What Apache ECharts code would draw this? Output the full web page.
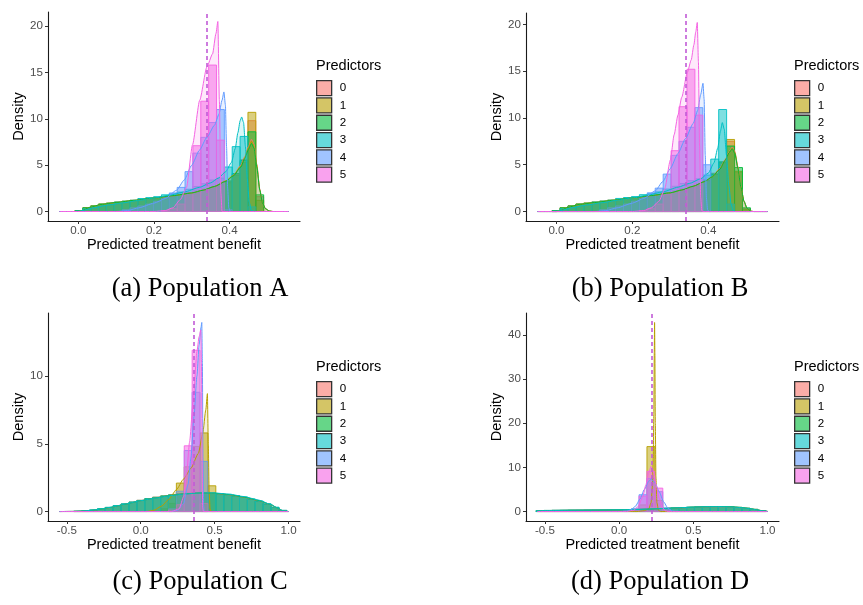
<!DOCTYPE html>
<html><head><meta charset="utf-8">
<script src="https://cdn.jsdelivr.net/npm/echarts@6/dist/echarts.min.js"></script>
<style>html,body{margin:0;padding:0;background:#fff}#c{width:863px;height:605px}</style>
</head><body><div id="c"></div>
<script>
// ---------- data ----------
const predictors = ['0','1','2','3','4','5'];
const palette = ['#F8766D','#B79F00','#00BA38','#00BFC4','#619CFF','#F564E3'];
const captions = ['(a) Population A','(b) Population B','(c) Population C','(d) Population D'];
const xTicksAB = [0, 0.2, 0.4];
const xTicksCD = [-0.5, 0, 0.5, 1.0];
const yTicksA = [0, 5, 10, 15, 20];
const yTicksB = [0, 5, 10, 15, 20];
const yTicksC = [0, 5, 10];
const yTicksD = [0, 10, 20, 30, 40];
const xRangeAB = [-0.05, 0.556];
const xRangeCD = [-0.55, 1.0];
const yMaxA = 20.5, yMaxB = 20.2, yMaxC = 13.95, yMaxD = 42.8;
const vlineA = 0.337, vlineB = 0.339, vlineC = 0.361, vlineD = 0.218;
const binStartA = -0.009, binWidthA = 0.0208;
const binStartB = -0.0115, binWidthB = 0.0209;
const binStartC = -0.56, binWidthC = 0.0534;
const binStartD = -0.56, binWidthD = 0.0534;

const histA = [
  [0.1,0.4,0.6,0.8,0.9,1.0,1.1,1.2,1.3,1.4,1.5,1.6,1.7,1.8,2.0,2.2,2.4,2.6,2.8,3.2,4.0,5.6,9.8,1.6,0,0],
  [0.1,0.4,0.6,0.8,0.9,1.0,1.1,1.2,1.3,1.4,1.5,1.6,1.7,1.8,1.9,2.1,2.3,2.6,2.8,3.1,3.9,5.3,10.7,1.2,0,0],
  [0.1,0.4,0.6,0.8,0.9,1.0,1.1,1.2,1.3,1.4,1.5,1.6,1.7,1.8,2.0,2.2,2.4,2.6,2.9,3.3,4.1,5.5,8.6,1.8,0,0],
  [0.05,0.3,0.5,0.7,0.8,1.0,1.1,1.2,1.4,1.5,1.6,1.8,1.9,2.1,2.4,2.7,3.0,3.4,3.6,4.8,7.0,8.1,0.5,0,0,0],
  [0,0,0,0,0,0,0.2,0.4,0.6,0.8,1.1,1.5,2.0,2.6,4.3,6.3,8.0,9.6,11.0,0.2,0,0,0,0,0,0],
  [0,0,0,0,0,0,0,0,0,0,0,0.1,0.3,0.8,2.0,7.1,11.9,15.8,7.7,0,0,0,0,0,0,0]
];
const histB = [
  [0.1,0.4,0.6,0.8,0.9,1.0,1.1,1.2,1.3,1.4,1.5,1.6,1.7,1.8,2.0,2.2,2.4,2.7,3.0,3.4,4.1,5.3,7.5,4.2,0.3,0],
  [0.1,0.4,0.6,0.8,0.9,1.0,1.1,1.2,1.3,1.4,1.5,1.6,1.7,1.8,1.9,2.1,2.3,2.6,2.9,3.3,4.0,5.2,7.7,4.3,0.2,0],
  [0.1,0.4,0.6,0.8,0.9,1.0,1.1,1.2,1.3,1.4,1.5,1.6,1.7,1.8,2.0,2.2,2.4,2.6,2.9,3.3,4.0,5.3,7.0,4.7,0.4,0],
  [0.05,0.3,0.5,0.7,0.8,1.0,1.1,1.2,1.4,1.5,1.6,1.8,1.9,2.1,2.4,2.7,3.0,3.3,3.5,3.9,5.6,10.9,0.8,0,0,0],
  [0,0,0,0,0,0,0.2,0.4,0.6,0.8,1.1,1.5,2.0,2.5,4.0,6.0,7.5,9.0,11.1,5.0,0,0,0,0,0,0],
  [0,0,0,0,0,0,0,0,0,0,0,0.1,0.3,0.8,1.8,6.5,11.2,15.2,10.3,0,0,0,0,0,0,0]
];
const histC = [
  [0,0,0.02,0.05,0.1,0.19,0.3,0.42,0.56,0.7,0.83,0.95,1.06,1.15,1.23,1.3,1.35,1.37,1.37,1.34,1.29,1.23,1.14,1.03,0.89,0.73,0.53,0.3,0.08,0],
  [0,0,0,0,0,0,0,0,0,0,0,0,0,0.2,0.6,2.1,3.3,4.8,5.8,1.9,0,0,0,0,0,0,0,0,0,0],
  [0,0,0.02,0.05,0.1,0.2,0.3,0.43,0.55,0.69,0.82,0.95,1.05,1.15,1.23,1.3,1.34,1.37,1.37,1.35,1.3,1.24,1.15,1.05,0.9,0.75,0.55,0.3,0.08,0],
  [0,0,0.02,0.06,0.12,0.21,0.31,0.44,0.57,0.7,0.82,0.94,1.04,1.13,1.21,1.28,1.33,1.36,1.38,1.37,1.33,1.27,1.18,1.07,0.93,0.77,0.57,0.32,0.09,0],
  [0,0,0,0,0,0,0,0,0,0,0,0,0,0,0.2,1.5,4.5,8.8,3.7,0,0,0,0,0,0,0,0,0,0,0],
  [0,0,0,0,0,0,0,0,0,0,0,0,0,0,0.1,0.5,4.85,11.9,0.6,0,0,0,0,0,0,0,0,0,0,0]
];
const histD = [
  [0.18,0.24,0.27,0.28,0.3,0.31,0.32,0.33,0.35,0.37,0.4,0.45,0.5,0.55,0.6,0.66,0.72,0.8,0.88,0.96,1.02,1.08,1.1,1.1,1.04,0.94,0.75,0.5,0.2,0],
  [0,0,0,0,0,0,0,0,0,0,0,0,0,1.5,14.7,2.5,0,0,0,0,0,0,0,0,0,0,0,0,0,0],
  [0.2,0.25,0.27,0.28,0.3,0.3,0.32,0.33,0.35,0.37,0.4,0.45,0.5,0.55,0.6,0.65,0.7,0.8,0.88,0.95,1.02,1.08,1.12,1.12,1.05,0.95,0.75,0.5,0.2,0],
  [0.19,0.25,0.28,0.29,0.31,0.32,0.33,0.34,0.36,0.38,0.41,0.46,0.51,0.56,0.61,0.67,0.73,0.81,0.89,0.97,1.03,1.09,1.11,1.1,1.03,0.92,0.73,0.48,0.19,0],
  [0,0,0,0,0,0,0,0,0,0,0,0.2,0.6,3.8,7.5,4.5,0.8,0.1,0,0,0,0,0,0,0,0,0,0,0,0],
  [0,0,0,0,0,0,0,0,0,0,0,0,0.3,3.5,9.1,5.3,0.3,0,0,0,0,0,0,0,0,0,0,0,0,0]
];

const densA = [
  [[-0.05,0],[0.0,0],[0.01,0.1],[0.03,0.45],[0.06,0.75],[0.1,0.97],[0.15,1.2],[0.2,1.45],[0.25,1.7],[0.3,2.0],[0.33,2.3],[0.36,2.7],[0.39,3.3],[0.41,3.9],[0.43,5.0],[0.44,5.9],[0.45,7.0],[0.458,7.8],[0.465,7.2],[0.472,5.1],[0.48,2.4],[0.487,0.9],[0.495,0.3],[0.505,0.05],[0.515,0],[0.556,0]],
  [[-0.05,0],[0.0,0],[0.01,0.1],[0.03,0.44],[0.06,0.74],[0.1,0.96],[0.15,1.2],[0.2,1.44],[0.25,1.7],[0.3,2.0],[0.33,2.3],[0.36,2.7],[0.39,3.3],[0.41,3.9],[0.43,4.9],[0.44,5.8],[0.45,6.9],[0.458,7.6],[0.465,7.0],[0.472,5.0],[0.48,2.3],[0.487,0.9],[0.495,0.3],[0.505,0.05],[0.515,0],[0.556,0]],
  [[-0.05,0],[0.0,0],[0.01,0.1],[0.03,0.45],[0.06,0.76],[0.1,0.98],[0.15,1.21],[0.2,1.46],[0.25,1.71],[0.3,2.0],[0.33,2.3],[0.36,2.7],[0.39,3.25],[0.41,3.85],[0.43,4.8],[0.44,5.7],[0.45,6.7],[0.458,7.35],[0.465,6.8],[0.472,4.8],[0.48,2.3],[0.487,0.9],[0.495,0.3],[0.505,0.05],[0.515,0],[0.556,0]],
  [[-0.05,0],[0.0,0],[0.01,0.1],[0.04,0.4],[0.08,0.7],[0.12,0.95],[0.16,1.2],[0.2,1.45],[0.24,1.75],[0.28,2.1],[0.32,2.6],[0.35,3.1],[0.37,3.6],[0.39,4.3],[0.405,5.3],[0.415,6.8],[0.422,8.5],[0.428,9.8],[0.432,10.2],[0.437,9.6],[0.442,7.0],[0.447,3.5],[0.452,1.0],[0.458,0.1],[0.465,0],[0.556,0]],
  [[-0.05,0],[0.1,0],[0.13,0.1],[0.16,0.4],[0.2,0.9],[0.23,1.4],[0.26,2.3],[0.28,3.4],[0.3,5.0],[0.32,6.6],[0.34,8.0],[0.36,9.3],[0.372,10.5],[0.38,12.0],[0.385,12.9],[0.389,11.5],[0.392,7.0],[0.395,2.5],[0.398,0.4],[0.402,0],[0.556,0]],
  [[-0.05,0],[0.2,0],[0.23,0.1],[0.25,0.4],[0.27,1.3],[0.286,2.6],[0.302,7.2],[0.321,12.0],[0.34,15.6],[0.355,17.0],[0.364,19.2],[0.369,20.5],[0.373,12.0],[0.377,2.0],[0.38,0],[0.556,0]]
];
const densB = [
  [[-0.05,0],[0.0,0],[0.01,0.1],[0.03,0.45],[0.06,0.75],[0.1,0.95],[0.15,1.2],[0.2,1.45],[0.25,1.7],[0.3,2.0],[0.33,2.3],[0.36,2.7],[0.39,3.2],[0.41,3.7],[0.43,4.6],[0.445,5.6],[0.455,6.4],[0.463,6.9],[0.47,6.4],[0.478,4.8],[0.486,2.7],[0.494,1.1],[0.502,0.35],[0.51,0.05],[0.52,0],[0.556,0]],
  [[-0.05,0],[0.0,0],[0.01,0.1],[0.03,0.44],[0.06,0.74],[0.1,0.95],[0.15,1.2],[0.2,1.44],[0.25,1.7],[0.3,2.0],[0.33,2.3],[0.36,2.7],[0.39,3.2],[0.41,3.7],[0.43,4.5],[0.445,5.5],[0.455,6.3],[0.463,6.8],[0.47,6.3],[0.478,4.7],[0.486,2.6],[0.494,1.1],[0.502,0.35],[0.51,0.05],[0.52,0],[0.556,0]],
  [[-0.05,0],[0.0,0],[0.01,0.1],[0.03,0.45],[0.06,0.76],[0.1,0.96],[0.15,1.21],[0.2,1.46],[0.25,1.71],[0.3,2.0],[0.33,2.3],[0.36,2.7],[0.39,3.2],[0.41,3.7],[0.43,4.5],[0.445,5.5],[0.455,6.3],[0.463,6.7],[0.47,6.2],[0.478,4.6],[0.486,2.6],[0.494,1.1],[0.502,0.35],[0.51,0.05],[0.52,0],[0.556,0]],
  [[-0.05,0],[0.0,0],[0.01,0.1],[0.04,0.4],[0.08,0.7],[0.12,0.95],[0.16,1.2],[0.2,1.45],[0.24,1.75],[0.28,2.1],[0.32,2.6],[0.35,3.0],[0.38,3.5],[0.4,4.1],[0.415,5.2],[0.425,6.8],[0.432,8.6],[0.437,9.5],[0.442,8.8],[0.448,6.0],[0.454,2.8],[0.46,0.8],[0.466,0.1],[0.472,0],[0.556,0]],
  [[-0.05,0],[0.1,0],[0.13,0.1],[0.16,0.4],[0.2,0.9],[0.23,1.4],[0.26,2.2],[0.28,3.2],[0.3,4.6],[0.32,6.2],[0.34,7.8],[0.36,9.4],[0.372,10.8],[0.38,12.5],[0.386,13.7],[0.389,12.0],[0.392,6.0],[0.395,1.5],[0.398,0.2],[0.402,0],[0.556,0]],
  [[-0.05,0],[0.2,0],[0.23,0.1],[0.25,0.4],[0.27,1.1],[0.285,2.4],[0.3,5.5],[0.31,8.2],[0.32,10.3],[0.33,12.2],[0.345,14.9],[0.355,16.2],[0.362,17.8],[0.367,19.2],[0.371,20.2],[0.374,16.0],[0.377,7.0],[0.38,1.5],[0.383,0.1],[0.386,0],[0.556,0]]
];
const densC = [
  [[-0.55,0],[-0.45,0.01],[-0.4,0.03],[-0.35,0.07],[-0.3,0.13],[-0.2,0.3],[-0.1,0.55],[0.0,0.8],[0.1,1.02],[0.2,1.2],[0.3,1.32],[0.4,1.37],[0.5,1.34],[0.6,1.24],[0.7,1.05],[0.8,0.8],[0.88,0.5],[0.93,0.22],[0.96,0.06],[0.99,0],[1.0,0]],
  [[-0.55,0],[0.04,0],[0.09,0.1],[0.14,0.4],[0.19,0.9],[0.24,1.6],[0.29,2.4],[0.34,3.2],[0.39,4.3],[0.42,5.8],[0.44,7.5],[0.451,8.7],[0.457,5.0],[0.463,1.5],[0.469,0.2],[0.478,0],[1.0,0]],
  [[-0.55,0],[-0.45,0.01],[-0.4,0.03],[-0.35,0.07],[-0.3,0.13],[-0.2,0.31],[-0.1,0.55],[0.0,0.8],[0.1,1.01],[0.2,1.19],[0.3,1.31],[0.4,1.37],[0.5,1.35],[0.6,1.25],[0.7,1.06],[0.8,0.81],[0.88,0.51],[0.93,0.23],[0.96,0.06],[0.99,0],[1.0,0]],
  [[-0.55,0],[-0.45,0.01],[-0.4,0.03],[-0.35,0.08],[-0.3,0.14],[-0.2,0.32],[-0.1,0.56],[0.0,0.8],[0.1,1.0],[0.2,1.17],[0.3,1.3],[0.4,1.37],[0.5,1.37],[0.6,1.28],[0.7,1.1],[0.8,0.84],[0.88,0.52],[0.93,0.24],[0.96,0.07],[0.99,0],[1.0,0]],
  [[-0.55,0],[0.2,0],[0.25,0.1],[0.29,0.6],[0.32,2.0],[0.34,4.0],[0.36,7.0],[0.38,10.0],[0.395,12.3],[0.408,13.6],[0.413,13.95],[0.417,11.0],[0.421,4.0],[0.425,0.5],[0.43,0],[1.0,0]],
  [[-0.55,0],[0.21,0],[0.26,0.2],[0.29,1.1],[0.31,2.8],[0.33,5.1],[0.357,8.5],[0.38,11.8],[0.395,12.9],[0.406,13.4],[0.411,11.0],[0.415,4.0],[0.419,0.3],[0.424,0],[1.0,0]]
];
const densD = [
  [[-0.55,0.15],[-0.45,0.22],[-0.3,0.27],[-0.15,0.31],[0.0,0.37],[0.1,0.44],[0.2,0.54],[0.3,0.67],[0.4,0.82],[0.5,0.96],[0.6,1.07],[0.68,1.1],[0.75,1.05],[0.82,0.9],[0.88,0.66],[0.93,0.38],[0.97,0.15],[1.0,0.04]],
  [[-0.55,0],[0.12,0],[0.17,0.2],[0.2,0.6],[0.215,2.0],[0.225,6.0],[0.23,12.0],[0.234,22.0],[0.237,36.0],[0.239,42.8],[0.241,36.0],[0.244,20.0],[0.248,8.0],[0.255,2.0],[0.265,0.3],[0.28,0],[1.0,0]],
  [[-0.55,0.16],[-0.45,0.23],[-0.3,0.28],[-0.15,0.31],[0.0,0.38],[0.1,0.45],[0.2,0.55],[0.3,0.68],[0.4,0.84],[0.5,0.99],[0.6,1.1],[0.68,1.14],[0.75,1.09],[0.82,0.93],[0.88,0.68],[0.93,0.39],[0.97,0.15],[1.0,0.04]],
  [[-0.55,0.17],[-0.45,0.24],[-0.3,0.29],[-0.15,0.33],[0.0,0.39],[0.1,0.46],[0.2,0.56],[0.3,0.69],[0.4,0.85],[0.5,1.0],[0.6,1.1],[0.68,1.12],[0.75,1.06],[0.82,0.9],[0.88,0.65],[0.93,0.37],[0.97,0.14],[1.0,0.03]],
  [[-0.55,0],[0.0,0],[0.05,0.1],[0.08,0.4],[0.11,1.2],[0.14,2.8],[0.17,5.0],[0.2,6.9],[0.215,7.3],[0.24,6.6],[0.27,4.5],[0.3,2.2],[0.33,0.7],[0.36,0.1],[0.38,0],[1.0,0]],
  [[-0.55,0],[0.05,0],[0.1,0.3],[0.13,1.2],[0.16,3.5],[0.18,6.0],[0.2,8.8],[0.215,10.2],[0.23,9.2],[0.25,6.0],[0.27,3.0],[0.29,1.0],[0.31,0.2],[0.33,0],[1.0,0]]
];

// ---------- build ----------
const FONT = '"Liberation Sans", Arial, Helvetica, sans-serif';
function rgba(hex, a) { const n = parseInt(hex.slice(1), 16); return `rgba(${n >> 16},${(n >> 8) & 255},${n & 255},${a})`; }
function expand(lo, hi) { const d = (hi - lo) * 0.05; return [lo - d, hi + d]; }

const panels = [
  { hist: histA, dens: densA, start: binStartA, w: binWidthA, xr: xRangeAB, ymax: yMaxA, xt: xTicksAB, yt: yTicksA, vl: vlineA,
    grid: { left: 48, top: 12, width: 252, height: 209 }, leg: [316, 80], legTitle: [316, 66], cap: [200, 289] },
  { hist: histB, dens: densB, start: binStartB, w: binWidthB, xr: xRangeAB, ymax: yMaxB, xt: xTicksAB, yt: yTicksB, vl: vlineB,
    grid: { left: 526, top: 13, width: 253, height: 208 }, leg: [794, 80], legTitle: [794, 66], cap: [660, 289] },
  { hist: histC, dens: densC, start: binStartC, w: binWidthC, xr: xRangeCD, ymax: yMaxC, xt: xTicksCD, yt: yTicksC, vl: vlineC,
    grid: { left: 48, top: 313, width: 252, height: 208 }, leg: [316, 381], legTitle: [316, 367], cap: [200, 582] },
  { hist: histD, dens: densD, start: binStartD, w: binWidthD, xr: xRangeCD, ymax: yMaxD, xt: xTicksCD, yt: yTicksD, vl: vlineD,
    grid: { left: 526, top: 313, width: 253, height: 208 }, leg: [794, 381], legTitle: [794, 367], cap: [660, 582] }
];

const grids = [], xAxes = [], yAxes = [], series = [], legends = [], graphics = [];
panels.forEach((p, i) => {
  grids.push(Object.assign({ containLabel: false }, p.grid));
  const xr = expand(p.xr[0], p.xr[1]);
  const yr = expand(0, p.ymax);
  xAxes.push({
    gridIndex: i, type: 'value', min: xr[0], max: xr[1],
    axisLine: { onZero: false, lineStyle: { color: '#1a1a1a', width: 1.1 } },
    axisTick: { length: 3, lineStyle: { color: '#333', width: 1 }, customValues: p.xt },
    axisLabel: { customValues: p.xt, formatter: v => v.toFixed(1), color: '#4D4D4D', fontSize: 11.6, fontFamily: FONT, margin: 4 },
    splitLine: { show: false },
    name: 'Predicted treatment benefit', nameLocation: 'middle', nameGap: 15,
    nameTextStyle: { color: '#000', fontSize: 14.5, fontFamily: FONT, verticalAlign: 'top' }
  });
  yAxes.push({
    gridIndex: i, type: 'value', min: yr[0], max: yr[1],
    axisLine: { onZero: false, lineStyle: { color: '#1a1a1a', width: 1.1 } },
    axisTick: { length: 3, lineStyle: { color: '#333', width: 1 }, customValues: p.yt },
    axisLabel: { customValues: p.yt, formatter: v => String(v), color: '#4D4D4D', fontSize: 11.6, fontFamily: FONT, margin: 5 },
    splitLine: { show: false },
    name: 'Density', nameLocation: 'middle', nameGap: 20, nameRotate: 90,
    nameTextStyle: { color: '#000', fontSize: 14.5, fontFamily: FONT }
  });
  p.hist.forEach((h, s) => {
    const col = palette[s];
    series.push({
      type: 'custom', name: predictors[s], xAxisIndex: i, yAxisIndex: i, silent: true,
      itemStyle: { color: rgba(col, 0.5) },
      encode: { x: [0, 1], y: 2 },
      data: h.map((v, k) => [p.start + k * p.w, p.start + (k + 1) * p.w, v]).filter(d => d[2] > 0),
      renderItem: (params, api) => {
        const a = api.coord([api.value(0), api.value(2)]);
        const b = api.coord([api.value(1), 0]);
        return { type: 'rect', shape: { x: a[0], y: a[1], width: b[0] - a[0], height: b[1] - a[1] },
                 style: { fill: rgba(col, 0.5), stroke: col, lineWidth: 0.9 } };
      }
    });
  });
  p.dens.forEach((d, s) => {
    const col = palette[s];
    const ser = {
      type: 'line', name: 'density ' + predictors[s], xAxisIndex: i, yAxisIndex: i, silent: true,
      data: d, showSymbol: false, symbol: 'none', smooth: 0.2, smoothMonotone: 'x',
      lineStyle: { color: col, width: 1 }, itemStyle: { color: col },
      areaStyle: { color: rgba(col, 0.2) }
    };
    if (s === 5) {
      ser.markLine = { silent: true, symbol: ['none', 'none'], label: { show: false },
        lineStyle: { color: '#C15BD6', type: [4, 3], width: 1.6 }, data: [{ xAxis: p.vl }] };
    }
    series.push(ser);
  });
  legends.push({
    orient: 'vertical', left: p.leg[0], top: p.leg[1], itemWidth: 15, itemHeight: 15, itemGap: 1, padding: 0,
    icon: 'rect', selectedMode: false,
    textStyle: { fontSize: 11.6, color: '#000', fontFamily: FONT, padding: [0, 0, 0, 3] },
    data: predictors.map((n, s) => ({ name: n, icon: 'rect',
      itemStyle: { color: rgba(palette[s], 0.6), borderColor: '#333', borderWidth: 1.3 } }))
  });
  graphics.push({ type: 'text', x: p.legTitle[0], y: p.legTitle[1],
    style: { text: 'Predictors', fontSize: 14.5, fontFamily: FONT, fill: '#000', align: 'left', verticalAlign: 'middle' } });
  graphics.push({ type: 'text', x: p.cap[0], y: p.cap[1],
    style: { text: captions[i], fontSize: 26.5, fontFamily: '"Liberation Serif", "Times New Roman", serif', fill: '#000', align: 'center', verticalAlign: 'middle' } });
});

const chart = echarts.init(document.getElementById('c'), null, { renderer: 'canvas' });
chart.setOption({
  animation: false,
  backgroundColor: '#fff',
  grid: grids, xAxis: xAxes, yAxis: yAxes, series: series, legend: legends, graphic: graphics
});
</script>
</body></html>
